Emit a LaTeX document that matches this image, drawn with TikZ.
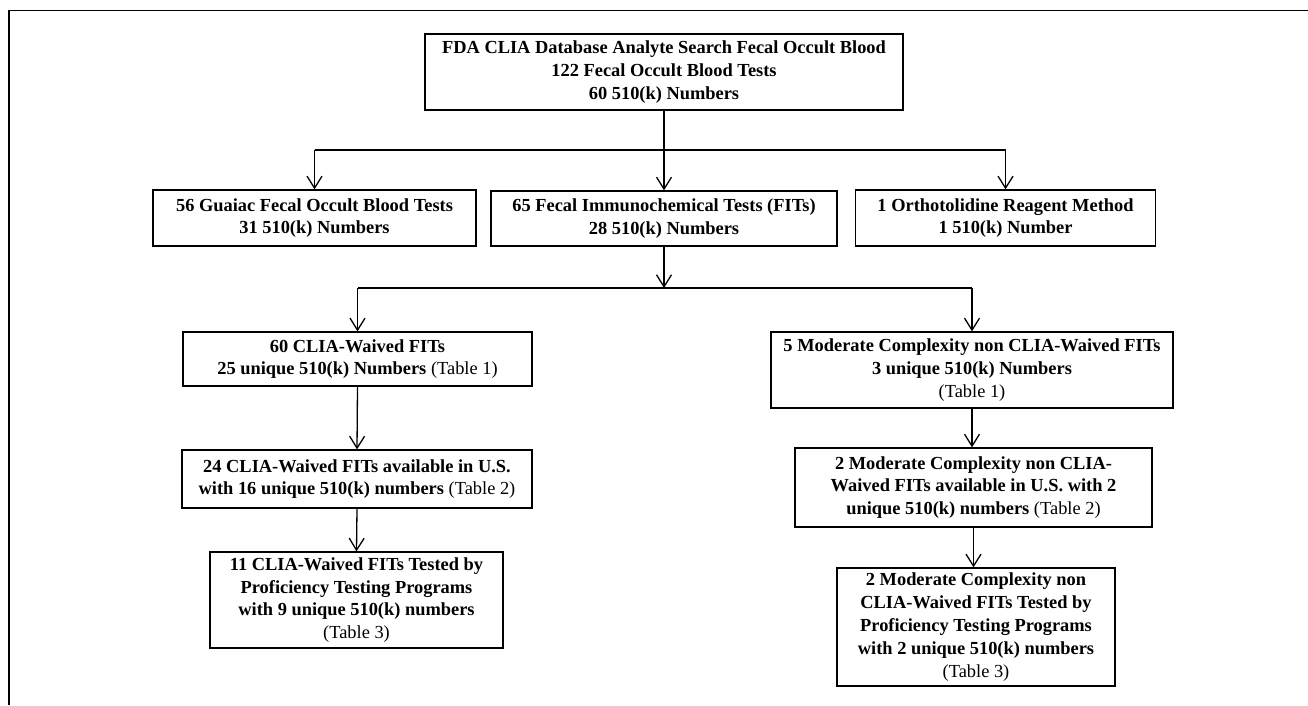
\documentclass[tikz,border=0pt]{standalone}
\usepackage{fontspec}
\setmainfont{Liberation Serif}
\usetikzlibrary{arrows.meta}
\begin{document}
\begin{tikzpicture}[x=1pt,y=-1pt,
  box/.style={draw, line width=1.3pt, align=center, inner sep=0pt,
    font=\fontsize{18.4}{22.8}\selectfont\bfseries},
  arr/.style={line width=1.3pt, -{Straight Barb[length=12pt,width=15pt,line width=1.3pt]}},
  ln/.style={line width=1.3pt},
  frame/.style={line width=1.5pt}]
\useasboundingbox (0,0) rectangle (1308,705);
\draw[frame] (9,705) -- (9,10.5) -- (1308,10.5);

\node[box, minimum width=478pt, minimum height=76pt] (top) at (664,72)
  {FDA CLIA Database Analyte Search Fecal Occult Blood\\122 Fecal Occult Blood Tests\\60 510(k) Numbers};

\node[box, minimum width=323pt, minimum height=56pt] (G) at (314.5,218)
  {56 Guaiac Fecal Occult Blood Tests\\31 510(k) Numbers};
\node[box, minimum width=346pt, minimum height=55pt] (F) at (664,218.5)
  {65 Fecal Immunochemical Tests (FITs)\\28 510(k) Numbers};
\node[box, minimum width=300pt, minimum height=56pt] (O) at (1005.5,218)
  {1 Orthotolidine Reagent Method\\1 510(k) Number};

\node[box, minimum width=349pt, minimum height=54pt] (L1) at (357.5,359)
  {60 CLIA-Waived FITs\\25 unique 510(k) Numbers {\mdseries (Table 1)}};
\node[box, minimum width=402pt, minimum height=76pt] (R1) at (972,370)
  {5 Moderate Complexity non CLIA-Waived FITs\\3 unique 510(k) Numbers\\{\mdseries (Table 1)}};

\node[box, minimum width=350pt, minimum height=58pt] (L2) at (357,479)
  {24 CLIA-Waived FITs available in U.S.\\with 16 unique 510(k) numbers {\mdseries (Table 2)}};
\node[box, minimum width=357pt, minimum height=79pt] (R2) at (973.5,487.5)
  {2 Moderate Complexity non CLIA-\\Waived FITs available in U.S. with 2\\unique 510(k) numbers {\mdseries (Table 2)}};

\node[box, minimum width=293pt, minimum height=96pt] (L3) at (356.5,600)
  {11 CLIA-Waived FITs Tested by\\Proficiency Testing Programs\\with 9 unique 510(k) numbers\\{\mdseries (Table 3)}};
\node[box, minimum width=278pt, minimum height=118pt] (R3) at (976,627)
  {2 Moderate Complexity non\\CLIA-Waived FITs Tested by\\Proficiency Testing Programs\\with 2 unique 510(k) numbers\\{\mdseries (Table 3)}};

% first split
\coordinate (j1) at (664,150);
\draw[ln] (G.north |- j1) -- (O.north |- j1);
\draw[arr] (top.south) -- (F.north);
\draw[arr] (G.north |- j1) -- (G.north);
\draw[arr] (O.north |- j1) -- (O.north);

% second split
\coordinate (j2) at (664,288);
\draw[arr] (F.south) -- (F.south |- j2);
\draw[ln] (L1.north |- j2) -- (R1.north |- j2);
\draw[arr] (L1.north |- j2) -- (L1.north);
\draw[arr] (R1.north |- j2) -- (R1.north);

% chains
\draw[arr] (L1.south) -- (L2.north);
\draw[arr] (L2.south) -- (L3.north);
\draw[arr] (R1.south) -- (R1.south |- R2.north);
\draw[arr] (R2.south) -- (R2.south |- R3.north);
\end{tikzpicture}
\end{document}
